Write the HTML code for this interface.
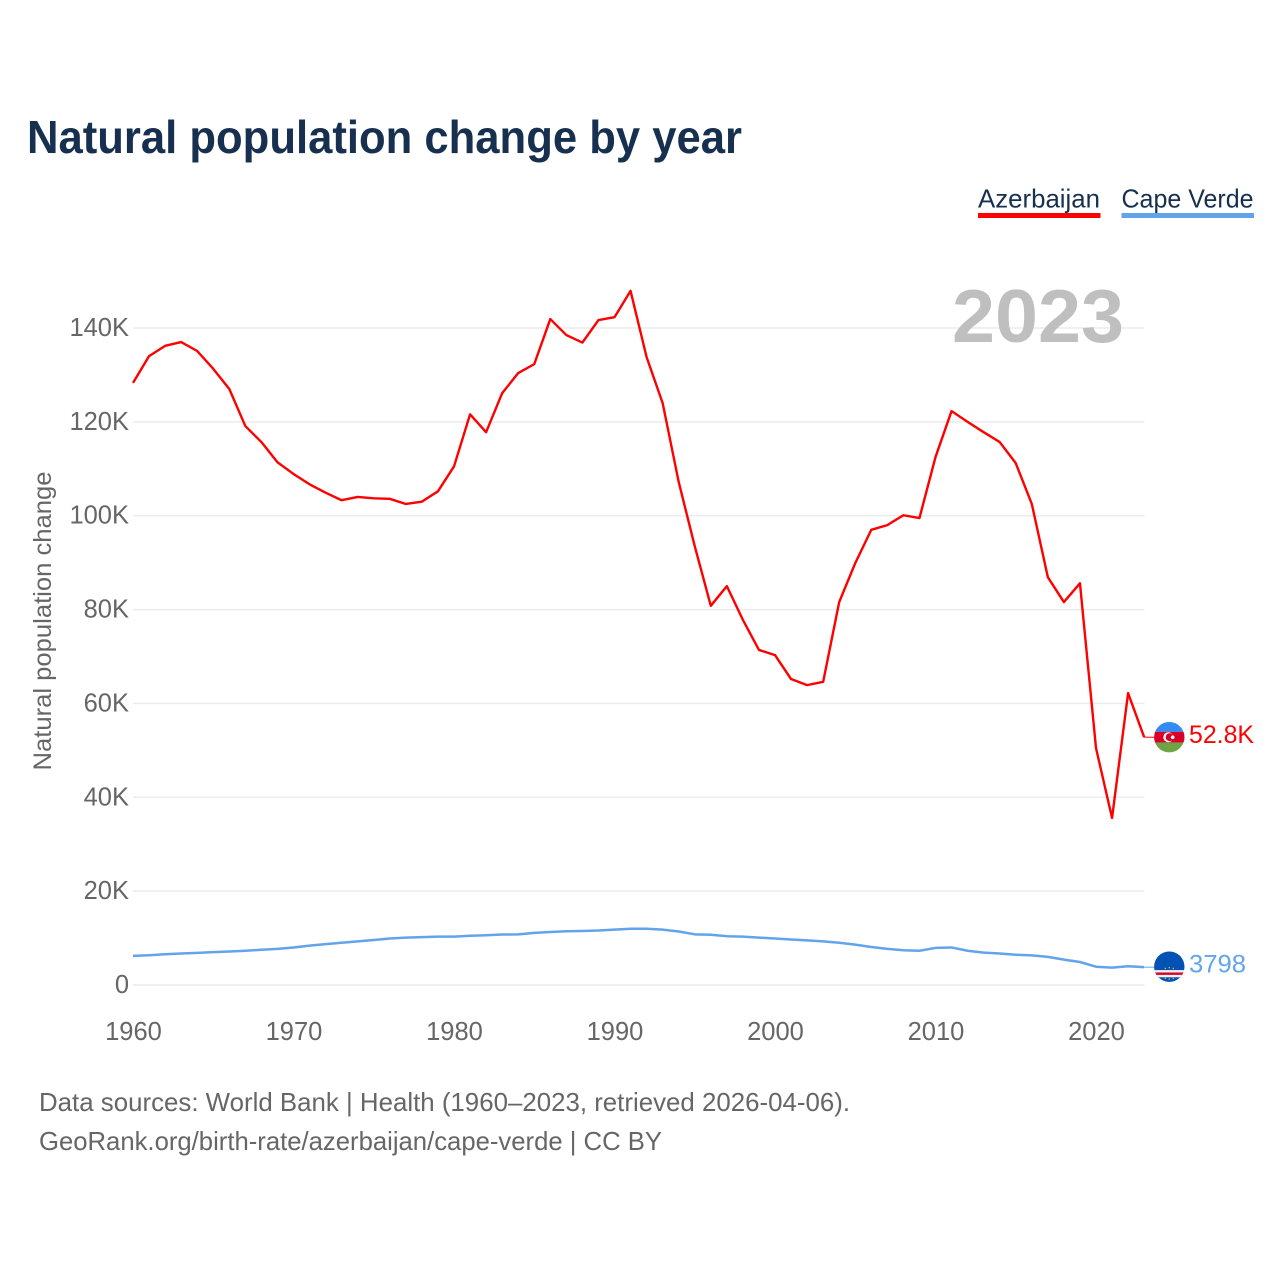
<!DOCTYPE html>
<html lang="en">
<head>
<meta charset="utf-8">
<title>Natural population change by year</title>
<style>
html,body{margin:0;padding:0;background:#fff;}
svg{display:block;font-family:"Liberation Sans",sans-serif;}
</style>
</head>
<body>
<svg id="chart" xmlns="http://www.w3.org/2000/svg" width="1280" height="1280" viewBox="0 0 1280 1280">
  <rect x="0" y="0" width="1280" height="1280" fill="#ffffff"/>
  <text x="27" y="153" font-size="46" font-weight="700" fill="#17304f" textLength="715" lengthAdjust="spacingAndGlyphs">Natural population change by year</text>

  <g>
    <text x="978" y="207.5" font-size="26" fill="#17304f" textLength="122" lengthAdjust="spacingAndGlyphs">Azerbaijan</text>
    <rect x="978" y="213" width="122.5" height="5" fill="#ff0000"/>
  </g>
  <g>
    <text x="1121.5" y="207.5" font-size="26" fill="#17304f" textLength="132" lengthAdjust="spacingAndGlyphs">Cape Verde</text>
    <rect x="1121.5" y="213" width="132.5" height="5" fill="#62a4eb"/>
  </g>

  <g id="grid"></g>
  <text id="yearLabel" x="952" y="342" font-size="75" font-weight="700" fill="#bfbfbf" textLength="172" lengthAdjust="spacingAndGlyphs">2023</text>
  <g id="yTicks"></g>
  <g id="xTicks"></g>
  <text transform="translate(51 621) rotate(-90)" text-anchor="middle" font-size="25" fill="#666666" textLength="299" lengthAdjust="spacingAndGlyphs">Natural population change</text>
  <g id="series"></g>

  <defs>
    <clipPath id="flagClip"><circle cx="0" cy="0" r="15.2"/></clipPath>
  </defs>

  <g id="flagAz">
    <g clip-path="url(#flagClip)">
      <rect x="-16" y="-16" width="32" height="10.6" fill="#338af3"/>
      <rect x="-16" y="-5.4" width="32" height="10.8" fill="#d80027"/>
      <rect x="-16" y="5.4" width="32" height="10.6" fill="#6da544"/>
      <circle cx="-1" cy="0" r="5" fill="#ffffff"/>
      <circle cx="0.4" cy="0" r="4" fill="#d80027"/>
      <circle cx="3.4" cy="0" r="1.8" fill="#ffffff"/>
    </g>
  </g>
  <g id="flagCv">
    <g clip-path="url(#flagClip)">
      <rect x="-16" y="-16" width="32" height="32" fill="#0052b4"/>
      <rect x="-16" y="3.4" width="32" height="7.2" fill="#f0f0f0"/>
      <rect x="-16" y="5.8" width="32" height="2.4" fill="#d80027"/>
      <circle cx="-4" cy="1.8" r="0.8" fill="#c9b04a"/>
      <circle cx="0" cy="1" r="0.8" fill="#c9b04a"/>
      <circle cx="4" cy="1.8" r="0.8" fill="#c9b04a"/>
      <circle cx="-4" cy="11.6" r="0.8" fill="#c9b04a"/>
      <circle cx="0" cy="12.4" r="0.8" fill="#c9b04a"/>
      <circle cx="4" cy="11.6" r="0.8" fill="#c9b04a"/>
    </g>
  </g>
  <g id="endLabels"></g>

  <text x="39" y="1111" font-size="26" fill="#666666" textLength="811" lengthAdjust="spacingAndGlyphs">Data sources: World Bank | Health (1960–2023, retrieved 2026-04-06).</text>
  <text x="39" y="1150" font-size="26" fill="#666666" textLength="623" lengthAdjust="spacingAndGlyphs">GeoRank.org/birth-rate/azerbaijan/cape-verde | CC BY</text>
</svg>
<script>
const years = [1960,1961,1962,1963,1964,1965,1966,1967,1968,1969,1970,1971,1972,1973,1974,1975,1976,1977,1978,1979,1980,1981,1982,1983,1984,1985,1986,1987,1988,1989,1990,1991,1992,1993,1994,1995,1996,1997,1998,1999,2000,2001,2002,2003,2004,2005,2006,2007,2008,2009,2010,2011,2012,2013,2014,2015,2016,2017,2018,2019,2020,2021,2022,2023];
const azerbaijan = [128300,134000,136200,137000,135100,131300,127000,119100,115700,111400,108900,106700,104900,103300,104000,103700,103600,102500,103000,105200,110500,121600,117800,126100,130400,132300,141900,138500,136900,141700,142300,147900,133800,124000,107200,93500,80800,85000,77800,71400,70300,65200,63900,64600,81600,89900,97000,98000,100100,99500,112500,122300,120000,117800,115700,111200,102500,86900,81600,85600,50500,35600,62200,52800];
const capeVerde = [6200,6350,6550,6700,6850,7000,7150,7300,7500,7700,8000,8400,8700,9000,9300,9600,9900,10100,10200,10300,10300,10500,10600,10750,10800,11100,11300,11450,11500,11600,11800,12000,12000,11800,11400,10800,10700,10400,10300,10100,9900,9700,9500,9300,9000,8600,8100,7700,7400,7300,7900,8000,7300,6900,6700,6450,6300,6000,5400,4900,3900,3700,4000,3798];
const yTickValues = [0,20000,40000,60000,80000,100000,120000,140000];
const yTickLabels = ['0','20K','40K','60K','80K','100K','120K','140K'];
const xTickValues = [1960,1970,1980,1990,2000,2010,2020];
const endValueLabels = ['52.8K','3798'];

const NS = 'http://www.w3.org/2000/svg';
const xScale = function (year) { return 133 + (year - 1960) * 16.05; };
const yScale = function (value) { return 985 - value * 657 / 140000; };

function make(tag, parent) {
  const el = document.createElementNS(NS, tag);
  parent.appendChild(el);
  return el;
}

const grid = document.getElementById('grid');
const yTicks = document.getElementById('yTicks');
yTickValues.forEach(function (v, i) {
  const line = make('line', grid);
  
  
  line.setAttribute('x1', xScale(1960));
  line.setAttribute('x2', 1144.5);
  line.setAttribute('y1', yScale(v));
  line.setAttribute('y2', yScale(v));
  line.setAttribute('stroke', '#ececec');
  line.setAttribute('stroke-width', '1.5');
  const t = make('text', yTicks);
  
  
  t.setAttribute('x', 129);
  t.setAttribute('y', yScale(v) + 8);
  t.setAttribute('text-anchor', 'end');
  t.setAttribute('font-size', '25.5');
  t.setAttribute('fill', '#666666');
  t.textContent = yTickLabels[i];
});

const xTicks = document.getElementById('xTicks');
xTickValues.forEach(function (yr) {
  const t = make('text', xTicks);
  
  
  t.setAttribute('x', xScale(yr) + 0.5);
  t.setAttribute('y', 1040);
  t.setAttribute('text-anchor', 'middle');
  t.setAttribute('font-size', '25.5');
  t.setAttribute('fill', '#666666');
  t.textContent = String(yr);
});

function linePath(values) {
  return values.map(function (v, i) {
    return (i ? 'L' : 'M') + xScale(years[i]).toFixed(2) + ' ' + yScale(v).toFixed(2);
  }).join(' ');
}

const seriesGroup = document.getElementById('series');

const azLine = make('path', seriesGroup);


azLine.setAttribute('d', linePath(azerbaijan));
azLine.setAttribute('fill', 'none');
azLine.setAttribute('stroke', '#ff0000');
azLine.setAttribute('stroke-width', '2.4');
azLine.setAttribute('stroke-linejoin', 'round');

const cvLine = make('path', seriesGroup);


cvLine.setAttribute('d', linePath(capeVerde));
cvLine.setAttribute('fill', 'none');
cvLine.setAttribute('stroke', '#62a4eb');
cvLine.setAttribute('stroke-width', '2.5');
cvLine.setAttribute('stroke-linejoin', 'round');

const lastYear = years[years.length - 1];
const azEnd = azerbaijan[azerbaijan.length - 1];
const cvEnd = capeVerde[capeVerde.length - 1];

const azConn = make('line', seriesGroup);


azConn.setAttribute('x1', xScale(lastYear));
azConn.setAttribute('x2', 1155);
azConn.setAttribute('y1', yScale(azEnd));
azConn.setAttribute('y2', yScale(azEnd));
azConn.setAttribute('stroke', '#ff0000');
azConn.setAttribute('stroke-width', '1');

const cvConn = make('line', seriesGroup);


cvConn.setAttribute('x1', xScale(lastYear));
cvConn.setAttribute('x2', 1155);
cvConn.setAttribute('y1', yScale(cvEnd));
cvConn.setAttribute('y2', yScale(cvEnd));
cvConn.setAttribute('stroke', '#62a4eb');
cvConn.setAttribute('stroke-width', '1');

document.getElementById('flagAz').setAttribute('transform', 'translate(1169.3 ' + yScale(azEnd) + ')');
document.getElementById('flagCv').setAttribute('transform', 'translate(1169.3 ' + (yScale(cvEnd) - 0.5) + ')');

const endGroup = document.getElementById('endLabels');

const azEndLabel = make('text', endGroup);


azEndLabel.setAttribute('x', 1189);
azEndLabel.setAttribute('y', yScale(azEnd) + 6);
azEndLabel.setAttribute('font-size', '25');
azEndLabel.setAttribute('fill', '#ff0000');
azEndLabel.setAttribute('textLength', '65');
azEndLabel.setAttribute('lengthAdjust', 'spacingAndGlyphs');
azEndLabel.textContent = endValueLabels[0];

const cvEndLabel = make('text', endGroup);


cvEndLabel.setAttribute('x', 1189);
cvEndLabel.setAttribute('y', yScale(cvEnd) + 5.5);
cvEndLabel.setAttribute('font-size', '25');
cvEndLabel.setAttribute('fill', '#62a4eb');
cvEndLabel.setAttribute('textLength', '57');
cvEndLabel.setAttribute('lengthAdjust', 'spacingAndGlyphs');
cvEndLabel.textContent = endValueLabels[1];
</script>
</body>
</html>
